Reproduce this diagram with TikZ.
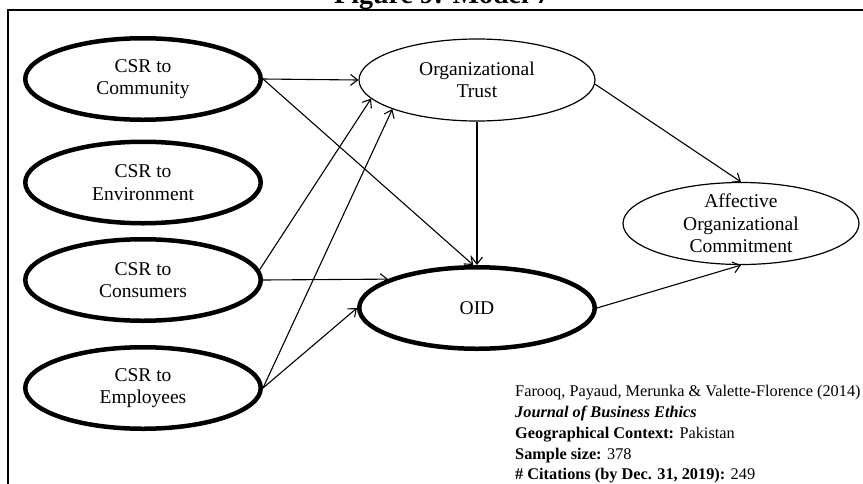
\documentclass[tikz,border=0pt]{standalone}
\usepackage{fontspec}
\setmainfont{Liberation Serif}
\usetikzlibrary{shapes.geometric,arrows.meta}
\begin{document}
\begin{tikzpicture}[x=1pt,y=-1pt,
  construct/.style={ellipse, draw, align=center, inner sep=0pt,
    font=\fontsize{19.5}{22.5}\selectfont},
  thickc/.style={construct, line width=4.5pt, minimum width=235.5pt, minimum height=81.5pt},
  thinc/.style={construct, line width=1.2pt, minimum width=236pt, minimum height=82pt},
  link/.style={line width=1.1pt, -{Straight Barb[length=7pt,width=11pt]}},
  citeline/.style={anchor=base west, inner sep=0pt, font=\fontsize{16.3}{19}\selectfont}]
\useasboundingbox (0,0) rectangle (863,483);

% heading and frame
\node[anchor=base, inner sep=0pt, font=\bfseries\fontsize{28}{30}\selectfont] (title) at (442,3) {Figure 9: Model 7};
\draw[line width=1.5pt] (8,10) rectangle (900,520);

% CSR dimensions
\node[thickc] (comm) at (143,79)    {CSR to\\Community};
\node[thickc] (env)  at (143,182.5) {CSR to\\Environment};
\node[thickc] (cons) at (143,280)   {CSR to\\Consumers};
\node[thickc] (emp)  at (143,388)   {CSR to\\Employees};

% mediators and outcome
\node[thinc]  (trust) at (477,80)  {Organizational\\Trust};
\node[thickc] (oid)   at (477,308) {OID};
\node[thinc, inner ysep=-4pt] (aff) at (741,223.5) {Affective\\Organizational\\Commitment};

% paths
\draw[link] (comm.east) -- (trust.west);
\draw[link] (comm.east) -- (oid.95);
\draw[link] (trust.south) -- (oid.north);
\draw[link] (trust.-2) -- (aff.north);
\draw[link] (cons.5) -- (trust.190);
\draw[link] (cons.east) -- (oid.162);
\draw[link] (emp.east) -- (trust.199);
\draw[link] (emp.east) -- (oid.west);
\draw[link] (oid.east) -- (aff.south);

% study details
\node[citeline] (c1) at (515,396) {Farooq, Payaud, Merunka \& Valette-Florence (2014)};
\node[citeline] (c2) at (515,417) {\textbf{\textit{Journal of Business Ethics}}};
\node[citeline] (c3) at (515,438) {\textbf{Geographical Context:} Pakistan};
\node[citeline] (c4) at (515,459) {\textbf{Sample size:} 378};
\node[citeline] (c5) at (515,479.5) {\textbf{\# Citations (by Dec. 31, 2019):} 249};
\end{tikzpicture}
\end{document}
